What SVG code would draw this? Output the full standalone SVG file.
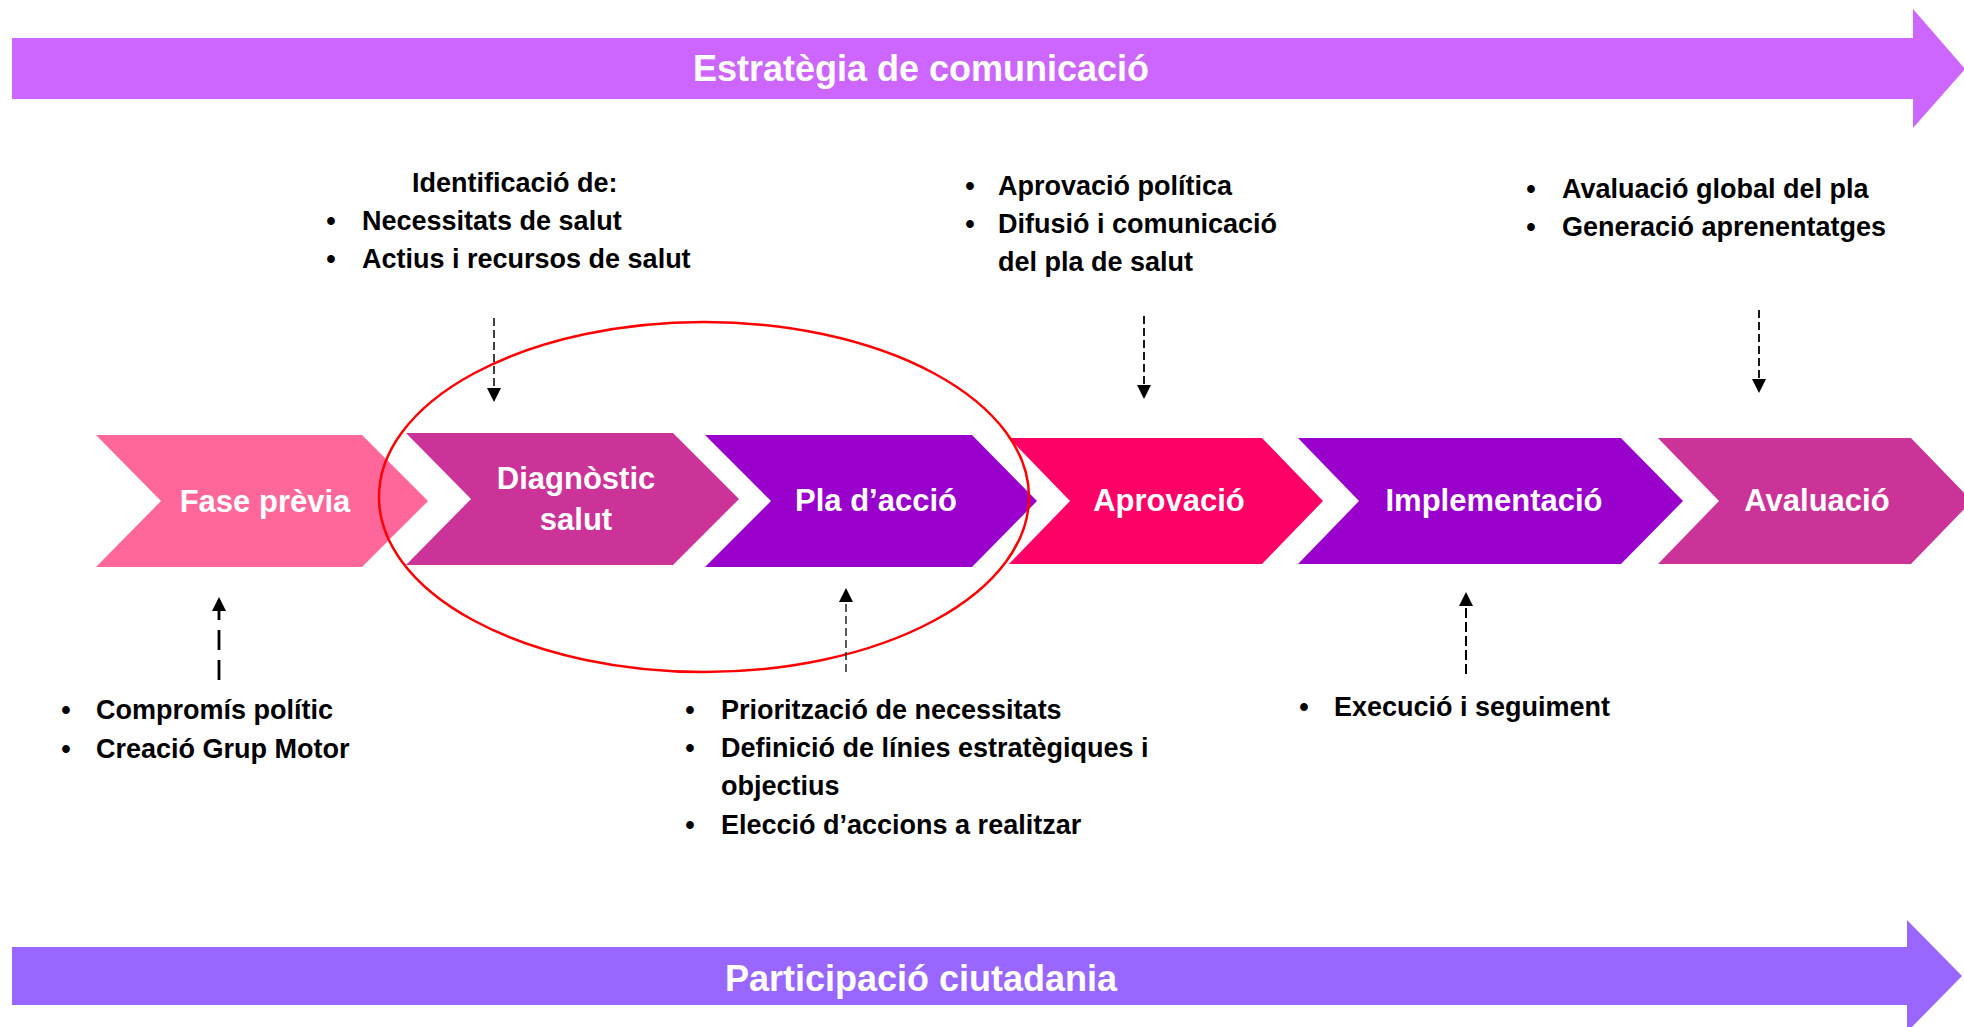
<svg xmlns="http://www.w3.org/2000/svg" width="1964" height="1027" viewBox="0 0 1964 1027">
<style>
text{font-family:"Liberation Sans",Arial,sans-serif;font-weight:bold}
.lbl{fill:#fff;font-size:31px;text-anchor:middle}
.ban{fill:#fff;font-size:36px;text-anchor:middle}
.note{fill:#000;font-size:27px}
.bul{fill:#000;font-size:27px;text-anchor:middle}
.arr{fill:none;stroke:#000}
</style>
<defs>
<marker id="ah" viewBox="0 0 10 10" refX="10" refY="5" markerWidth="14" markerHeight="14" markerUnits="userSpaceOnUse" orient="auto">
<path d="M0,0 L10,5 L0,10 Z" fill="#000"/>
</marker>
</defs>
<rect width="1964" height="1027" fill="#fff"/>
<g id="banner-top">
<polygon points="12,38 1913,38 1913,9 1965,69 1913,128 1913,99 12,99" fill="#CC66FF"/>
<text class="ban" x="921" y="81">Estratègia de comunicació</text>
</g>
<g id="banner-bottom">
<polygon points="12,947 1907,947 1907,920 1962,976 1907,1032 1907,1005 12,1005" fill="#9966FF"/>
<text class="ban" x="921" y="991">Participació ciutadania</text>
</g>
<g id="fase-previa">
<polygon points="96,435 362,435 428,501 362,567 96,567 161,501" fill="#FF6699"/>
<text class="lbl" x="265" y="512">Fase prèvia</text>
</g>
<g id="diagnostic">
<polygon points="406,433 673,433 739,499 673,565 406,565 471,499" fill="#CC3399"/>
<text class="lbl" x="576" y="489">Diagnòstic</text>
<text class="lbl" x="576" y="530">salut</text>
</g>
<g id="pla-accio">
<polygon points="705,435 972,435 1037,501 972,567 705,567 771,501" fill="#9900CC"/>
<text class="lbl" x="876" y="511">Pla d’acció</text>
</g>
<g id="aprovacio">
<polygon points="1009,438 1262,438 1323,501 1262,564 1009,564 1070,501" fill="#FF0066"/>
<text class="lbl" x="1169" y="511">Aprovació</text>
</g>
<g id="implementacio">
<polygon points="1298,438 1621,438 1683,501 1621,564 1298,564 1359,501" fill="#9900CC"/>
<text class="lbl" x="1494" y="511">Implementació</text>
</g>
<g id="avaluacio">
<polygon points="1658,438 1911,438 1972,501 1911,564 1658,564 1719,501" fill="#CC3399"/>
<text class="lbl" x="1817" y="511">Avaluació</text>
</g>
<g id="highlight">
<ellipse cx="704" cy="497" rx="325" ry="175" fill="none" stroke="#FF0000" stroke-width="2.5"/>
</g>
<g id="connectors">
<line class="arr" x1="494" y1="318" x2="494" y2="402" stroke-width="1.5" stroke-dasharray="8,4" marker-end="url(#ah)"/>
<line class="arr" x1="1144" y1="316" x2="1144" y2="399" stroke-width="1.8" stroke-dasharray="8,4" marker-end="url(#ah)"/>
<line class="arr" x1="1759" y1="310" x2="1759" y2="393" stroke-width="1.8" stroke-dasharray="8,4" marker-end="url(#ah)"/>
<line class="arr" x1="219" y1="680" x2="219" y2="597" stroke-width="2.8" stroke-dasharray="20,10" marker-end="url(#ah)"/>
<line class="arr" x1="846" y1="672" x2="846" y2="588" stroke-width="1.3" stroke-dasharray="8,4" marker-end="url(#ah)"/>
<line class="arr" x1="1466" y1="674" x2="1466" y2="592" stroke-width="2" stroke-dasharray="10,4" marker-end="url(#ah)"/>
</g>
<g id="note-diagnostic">
<text class="note" x="412" y="192">Identificació de:</text>
<text class="bul" x="331" y="230">•</text>
<text class="note" x="362" y="230">Necessitats de salut</text>
<text class="bul" x="331" y="268">•</text>
<text class="note" x="362" y="268">Actius i recursos de salut</text>
</g>
<g id="note-aprovacio">
<text class="bul" x="970" y="195">•</text>
<text class="note" x="998" y="195">Aprovació política</text>
<text class="bul" x="970" y="233">•</text>
<text class="note" x="998" y="233">Difusió i comunicació</text>
<text class="note" x="998" y="271">del pla de salut</text>
</g>
<g id="note-avaluacio">
<text class="bul" x="1531" y="198">•</text>
<text class="note" x="1562" y="198">Avaluació global del pla</text>
<text class="bul" x="1531" y="236">•</text>
<text class="note" x="1562" y="236">Generació aprenentatges</text>
</g>
<g id="note-fase-previa">
<text class="bul" x="66" y="719">•</text>
<text class="note" x="96" y="719">Compromís polític</text>
<text class="bul" x="66" y="758">•</text>
<text class="note" x="96" y="758">Creació Grup Motor</text>
</g>
<g id="note-pla-accio">
<text class="bul" x="690" y="719">•</text>
<text class="note" x="721" y="719">Priorització de necessitats</text>
<text class="bul" x="690" y="757">•</text>
<text class="note" x="721" y="757">Definició de línies estratègiques i</text>
<text class="note" x="721" y="795">objectius</text>
<text class="bul" x="690" y="834">•</text>
<text class="note" x="721" y="834">Elecció d’accions a realitzar</text>
</g>
<g id="note-implementacio">
<text class="bul" x="1304" y="716">•</text>
<text class="note" x="1334" y="716">Execució i seguiment</text>
</g>
</svg>
